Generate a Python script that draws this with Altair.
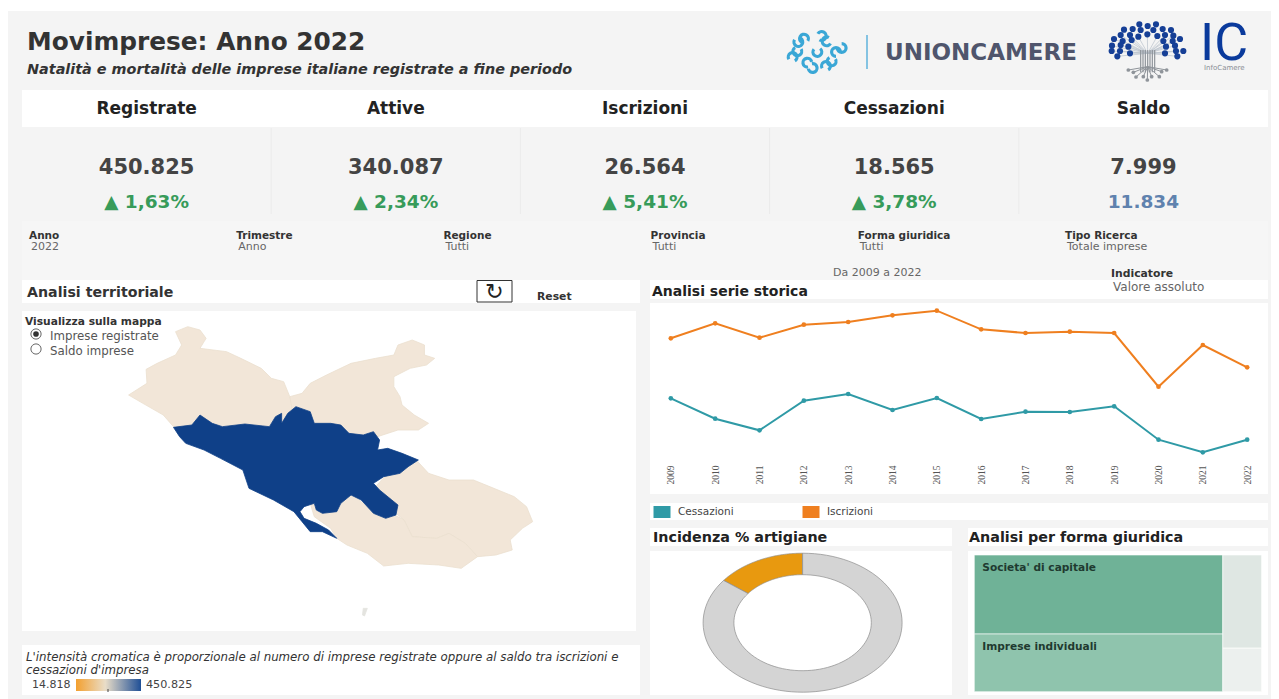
import altair as alt
import numpy as np
import pandas as pd

FONT = "DejaVu Sans"
BG = "#f4f4f4"

# ---------- text and values ----------
TITLE = "Movimprese: Anno 2022"
SUBTITLE = "Natalità e mortalità delle imprese italiane registrate a fine periodo"
kpi_names = ["Registrate", "Attive", "Iscrizioni", "Cessazioni", "Saldo"]
kpi_values = ["450.825", "340.087", "26.564", "18.565", "7.999"]
kpi_deltas = ["▲ 1,63%", "▲ 2,34%", "▲ 5,41%", "▲ 3,78%", "11.834"]
kpi_kinds = ["pct", "pct", "pct", "pct", "abs"]
filter_names = ["Anno", "Trimestre", "Regione", "Provincia", "Forma giuridica", "Tipo Ricerca"]
filter_values = ["2022", "Anno", "Tutti", "Tutti", "Tutti", "Totale imprese"]
NOTE_1 = "L'intensità cromatica è proporzionale al numero di imprese registrate oppure al saldo tra iscrizioni e"
NOTE_2 = "cessazioni d'impresa"
radio_options = ["Imprese registrate", "Saldo imprese"]

years = list(range(2009, 2023))
iscrizioni = [29769, 31426, 29835, 31271, 31570, 32310, 32818, 30763, 30354, 30498, 30354, 24420, 29028, 26564]
cessazioni = [23139, 20884, 19603, 22873, 23614, 21846, 23172, 20851, 21658, 21625, 22254, 18564, 17172, 18565]

artigiane_share = [14.6, 85.4]
forme = ["Societa' di capitale", "Imprese individuali", "Societa' di persone", "Altre forme"]
forme_values = [50.0, 36.5, 9.2, 4.3]

viterbo = [(425,440),(400,405),(350,370),(315,345),(360,310),(358,268),(385,250),(430,225),(445,195),(430,155),(460,140),(490,150),(505,175),(490,205),(555,215),(590,235),(640,265),(665,295),(695,305),(710,350),(725,395),(700,480),(500,470)]
rieti = [(710,350),(740,340),(760,310),(800,285),(860,250),(920,235),(965,225),(975,195),(1010,180),(1040,195),(1040,225),(1065,235),(1045,255),(1005,265),(965,290),(965,320),(980,350),(985,375),(1015,405),(1050,430),(1025,450),(975,450),(925,470),(900,500),(725,450)]
frosinone = [(1020,540),(1050,580),(1100,600),(1160,600),(1210,625),(1260,650),(1290,680),(1305,725),(1280,745),(1250,780),(1255,810),(1215,825),(1170,830),(1140,790),(1100,760),(1070,775),(1010,770),(990,720),(960,690),(920,620),(950,580)]
latina = [(1010,770),(1070,775),(1100,760),(1140,790),(1170,830),(1130,865),(1075,855),(1000,850),(940,858),(900,820),(850,795),(825,775),(810,745),(770,710),(760,670),(800,640),(860,640),(900,680),(960,700),(990,720)]
roma = [(425,442),(470,435),(490,405),(520,430),(545,440),(600,432),(660,440),(675,410),(690,400),(690,430),(705,400),(725,380),(760,395),(770,430),(810,430),(835,435),(855,460),(890,465),(915,455),(930,480),(925,510),(950,505),(985,520),(1025,540),(1000,560),(980,580),(940,590),(915,610),(930,630),(960,660),(975,675),(970,705),(945,715),(915,700),(885,660),(860,645),(835,670),(825,695),(790,700),(775,690),(770,670),(745,680),(735,695),(745,715),(775,730),(805,750),(825,775),(790,755),(760,755),(740,725),(720,695),(670,660),(610,625),(595,570),(540,535),(500,510),(455,490),(440,470)]
isola = [(890,985),(900,985),(893,1008),(888,1005)]

tree_dots = [(118,28),(143,33),(168,28),(188,42),(213,45),(98,42),(72,44),(122,45),(160,45),(62,60),(90,60),(115,65),(142,58),(172,63),(195,60),(220,62),(42,72),(68,78),(95,75),(190,78),(218,78),(240,72),(36,92),(62,90),(85,95),(198,95),(225,92),(250,108),(35,108),(60,108),(90,115),(195,115),(228,108),(52,124),(232,124)]
root_dots = [(85,165),(100,172),(108,186),(130,185),(142,195),(155,185),(178,185),(185,170),(200,165)]
trunk_x = [122,129,136,143,150,157,164]
swirl = [(55,60,30,300),(72,50,210,480),(125,42,300,570),(140,58,120,390),(185,78,0,270),(168,90,180,450),(155,118,60,330),(138,132,240,510),(82,122,170,440),(98,138,350,620),(52,88,60,330),(38,105,240,510),(112,90,40,310)]


def one():
    return alt.Data(values=[{"a": 1}])


def blank(w, h, fill=None):
    props = dict(width=w, height=h)
    if fill:
        props["view"] = alt.ViewBackground(fill=fill, stroke=None)
    return alt.Chart(one()).mark_rect(opacity=0).encode(
        x=alt.value(0), x2=alt.value(0), y=alt.value(0), y2=alt.value(0)).properties(**props)


def T(text, x, y, size, color="#333333", bold=False, italic=False, align="left", font=FONT, **kw):
    opts = dict(fontSize=size, color=color, align=align, baseline="middle", font=font)
    if bold:
        opts["fontWeight"] = "bold"
    if italic:
        opts["fontStyle"] = "italic"
    opts.update(kw)
    return alt.Chart(alt.Data(values=[{"t": text}])).mark_text(**opts).encode(
        x=alt.value(x), y=alt.value(y), text="t:N")


def card(layers, w, h, fill="white"):
    return alt.layer(*layers).properties(width=w, height=h, view=alt.ViewBackground(fill=fill, stroke=None))


def vc(*c):
    return alt.vconcat(*c, spacing=0).resolve_scale(color="independent", stroke="independent")


def hc(*c):
    return alt.hconcat(*c, spacing=0).resolve_scale(color="independent", stroke="independent")


# ---------- header ----------
X0, Y0 = 22, 11
W, H = 1246, 79
hx = alt.Scale(domain=[X0, X0 + W], nice=False, zero=False)
hy = alt.Scale(domain=[Y0 + H, Y0], nice=False, zero=False)

tree_df = pd.DataFrame([{"x": 1100 + a / 3, "y": 15 + b / 3} for a, b in tree_dots])
root_df = pd.DataFrame([{"x": 1100 + a / 3, "y": 15 + b / 3} for a, b in root_dots])
trunk_df = pd.DataFrame([{"x": 1100 + a / 3, "y": 15 + 105 / 3, "y2": 15 + 172 / 3} for a in trunk_x])
branch_df = pd.DataFrame([{"x": 1100 + 143 / 3, "y": 15 + 115 / 3, "x2": 1100 + a / 3, "y2": 15 + b / 3}
                          for a, b in tree_dots if b > 55])
rootline_df = pd.DataFrame([{"x": 1100 + 143 / 3, "y": 15 + 155 / 3, "x2": 1100 + a / 3, "y2": 15 + b / 3}
                            for a, b in root_dots])
swirl_df = pd.DataFrame([{"x": 780 + a / 3, "y": 22 + b / 3, "t1": s, "t2": e} for a, b, s, e in swirl])

logo_branch = alt.Chart(branch_df).mark_rule(color="#b9c2cc", strokeWidth=0.7).encode(
    x=alt.X("x:Q", scale=hx, axis=None), y=alt.Y("y:Q", scale=hy, axis=None), x2="x2:Q", y2="y2:Q")
logo_rootline = alt.Chart(rootline_df).mark_rule(color="#8f949a", strokeWidth=1).encode(
    x=alt.X("x:Q", scale=hx, axis=None), y=alt.Y("y:Q", scale=hy, axis=None), x2="x2:Q", y2="y2:Q")
logo_trunk = alt.Chart(trunk_df).mark_rule(color="#8f949a", strokeWidth=1.2).encode(
    x=alt.X("x:Q", scale=hx, axis=None), y=alt.Y("y:Q", scale=hy, axis=None), y2="y2:Q")
logo_tree = alt.Chart(tree_df).mark_point(filled=True, color="#163f96", opacity=1, size=38).encode(
    x=alt.X("x:Q", scale=hx, axis=None), y=alt.Y("y:Q", scale=hy, axis=None))
logo_root = alt.Chart(root_df).mark_point(filled=True, color="#8f949a", opacity=1, size=14).encode(
    x=alt.X("x:Q", scale=hx, axis=None), y=alt.Y("y:Q", scale=hy, axis=None))
logo_swirl = alt.Chart(swirl_df).mark_arc(radius=6, radius2=2.8, color="#3aa7d6").encode(
    x=alt.X("x:Q", scale=hx, axis=None), y=alt.Y("y:Q", scale=hy, axis=None),
    theta=alt.Theta("t1:Q", scale=alt.Scale(domain=[0, 360], range=[0, 6.2832])), theta2="t2:Q")
sep = alt.Chart(one()).mark_rule(color="#5fb3dc", strokeWidth=1.5).encode(
    x=alt.value(867 - X0), y=alt.value(35 - Y0), y2=alt.value(69 - Y0))

header = card([
    T(TITLE, 27 - X0, 43 - Y0, 24.8, "#333333", bold=True),
    T(SUBTITLE, 27 - X0, 70 - Y0, 14.4, "#333333", bold=True, italic=True),
    logo_swirl, sep,
    T("UNIONCAMERE", 885 - X0, 53 - Y0, 23, "#4f556c", bold=True),
    logo_branch, logo_rootline, logo_trunk, logo_tree, logo_root,
    T("IC", 1200 - X0, 44 - Y0, 52, "#0a3a9c", font="Roboto"),
    T("InfoCamere", 1204 - X0, 68 - Y0, 7, "#8a8f96"),
], W, H, BG)

# ---------- KPI rows ----------
kx = alt.X("kpi:N", sort=kpi_names, axis=None, scale=alt.Scale(domain=kpi_names, paddingInner=0, paddingOuter=0))
kpi_df = pd.DataFrame({"kpi": kpi_names, "val": kpi_values, "delta": kpi_deltas, "kind": kpi_kinds})

kpi_head = alt.Chart(kpi_df).mark_text(font=FONT, fontSize=17, fontWeight="bold", color="#222222").encode(
    x=kx, y=alt.value(19), text="kpi:N").properties(
    width=W, height=37, view=alt.ViewBackground(fill="white", stroke=None))

seps = alt.Chart(kpi_df[:-1]).mark_rule(color="#ebebeb").encode(
    x=alt.X("kpi:N", sort=kpi_names, axis=None, bandPosition=1,
            scale=alt.Scale(domain=kpi_names, paddingInner=0, paddingOuter=0)),
    y=alt.value(0), y2=alt.value(86))
kpi_val = alt.Chart(kpi_df).mark_text(font=FONT, fontSize=21, fontWeight="bold", color="#444444").encode(
    x=kx, y=alt.value(40), text="val:N")
kpi_delta = alt.Chart(kpi_df).mark_text(font=FONT, fontSize=18.5, fontWeight="bold").encode(
    x=kx, y=alt.value(74), text="delta:N",
    color=alt.Color("kind:N", legend=None, scale=alt.Scale(domain=["pct", "abs"], range=["#379b5a", "#5f82ae"])))
kpi_row = alt.layer(seps, kpi_val, kpi_delta).properties(width=W, height=87)

# ---------- filters ----------
fx = alt.X("name:N", axis=None, scale=alt.Scale(type="point", padding=0, domain=filter_names, range=[7, 1043]))
f_df = pd.DataFrame({"name": filter_names, "value": filter_values})
filters = alt.layer(
    alt.Chart(f_df).mark_text(font=FONT, fontSize=10.5, fontWeight="bold", color="#333333", align="left").encode(
        x=fx, y=alt.value(15), text="name:N"),
    alt.Chart(f_df).mark_text(font=FONT, fontSize=11, color="#666666", align="left", dx=2).encode(
        x=fx, y=alt.value(26), text="value:N"),
    T("Da 2009 a 2022", 833 - 22, 52, 11, "#666666"),
    T("Indicatore", 1111 - 22, 53, 10.8, "#333333", bold=True),
).properties(width=W, height=59, view=alt.ViewBackground(fill="#f6f6f6", stroke=None))

# ---------- left column ----------
LX = 22
reset_box = alt.Chart(one()).mark_rect(fill="white", stroke="#333333", strokeWidth=1).encode(
    x=alt.value(477 - LX), x2=alt.value(512 - LX), y=alt.value(0.5), y2=alt.value(22))
card_terr = card([
    T("Analisi territoriale", 27 - LX, 13, 14.2, "#333333", bold=True),
    reset_box,
    T("↻", 494.5 - LX, 11.5, 22, "#222222", align="center"),
    T("Reset", 537 - LX, 17, 10.8, "#333333", bold=True),
], 618, 23)


def feature(name, pts):
    ring_pts = [[x / 2.45, 280 + y / 3] for x, y in pts]
    ring_pts.append(ring_pts[0])
    return {"type": "Feature", "properties": {"prov": name},
            "geometry": {"type": "Polygon", "coordinates": [ring_pts]}}


geo_names = ["Viterbo", "Rieti", "Frosinone", "Latina", "Isola", "Roma"]
geo_colors = ["#f2e6d8", "#f2e6d8", "#f2e6d8", "#f2e6d8", "#e4e4e0", "#0f4088"]
features = [feature(n, p) for n, p in zip(geo_names, [viterbo, rieti, frosinone, latina, isola, roma])]
GEO_TRANSLATE = [-22, -311]
geo = alt.Chart(alt.InlineData(values={"type": "FeatureCollection", "features": features},
                               format=alt.DataFormat(property="features", type="json"))
                ).mark_geoshape(strokeWidth=0.8).encode(
    color=alt.Color("properties.prov:N", legend=None, scale=alt.Scale(domain=geo_names, range=geo_colors)),
    stroke=alt.Stroke("properties.prov:N", legend=None, scale=alt.Scale(domain=geo_names, range=["#ebdfcf"] * 4 + ["#e4e4e0", "#0f4088"])),
).project(type="identity", scale=1, translate=GEO_TRANSLATE)

opt_df = pd.DataFrame({"opt": radio_options})
oy = alt.Y("opt:N", axis=None, scale=alt.Scale(type="point", padding=0, domain=radio_options, range=[23, 38]))
rings = alt.Chart(opt_df).mark_point(shape="circle", filled=False, size=105, stroke="#666666", strokeWidth=1, opacity=1).encode(
    x=alt.value(36 - 22), y=oy)
dot = alt.Chart(opt_df[:1]).mark_point(shape="circle", filled=True, size=32, color="#333333", opacity=1).encode(
    x=alt.value(36 - 22), y=oy)
labels = alt.Chart(opt_df).mark_text(font=FONT, fontSize=11.8, color="#555555", align="left", dy=2).encode(
    x=alt.value(50 - 22), y=oy, text="opt:N")
map_card = alt.layer(
    geo, rings, dot, labels,
    T("Visualizza sulla mappa", 25 - 22, 11, 10.7, "#333333", bold=True),
).properties(width=614, height=320, view=alt.ViewBackground(fill="white", stroke=None))

grad = alt.Gradient(gradient="linear", x1=0, x2=1, y1=0, y2=0, stops=[
    alt.GradientStop(color="#f3a02f", offset=0),
    alt.GradientStop(color="#e9ddc8", offset=0.45),
    alt.GradientStop(color="#1f4f96", offset=1)])
gbar = alt.Chart(one()).mark_rect(color=grad).encode(
    x=alt.value(76 - 22), x2=alt.value(141 - 22), y=alt.value(34), y2=alt.value(46))
gtick = alt.Chart(one()).mark_rule(color="#444444", strokeWidth=1).encode(
    x=alt.value(108 - 22), y=alt.value(44), y2=alt.value(47))
note_card = card([
    T(NOTE_1, 26 - 22, 12, 11.8, "#333333", italic=True),
    T(NOTE_2, 26 - 22, 25, 11.8, "#333333", italic=True),
    T("14.818", 32 - 22, 40, 11, "#444444"),
    gbar, gtick,
    T("450.825", 146 - 22, 40, 11.2, "#444444"),
], 618, 50)

left = vc(card_terr, blank(618, 8), map_card, blank(618, 14), note_card)

# ---------- right column ----------
RX = 650
card_serie = card([
    T("Analisi serie storica", 652 - RX, 11.5, 14, "#222222", bold=True),
    T("Valore assoluto", 1113 - RX, 7, 12, "#666666"),
], 618, 19)

serie_names = ["Cessazioni", "Iscrizioni"]
serie_colors = ["#2f9aa6", "#ef7f1f"]
serie_df = pd.concat([
    pd.DataFrame({"anno": years, "serie": "Iscrizioni", "v": iscrizioni}),
    pd.DataFrame({"anno": years, "serie": "Cessazioni", "v": cessazioni}),
])
sx = alt.X("anno:O", title=None, scale=alt.Scale(type="point", padding=0.47),
           axis=alt.Axis(labelAngle=270, domain=False, ticks=False, grid=False, labelPadding=0, offset=-29,
                         labelFont="Liberation Serif", labelFontSize=9.5, labelColor="#555555"))
sy = alt.Y("v:Q", axis=None, scale=alt.Scale(domain=[12564, 33669], nice=False, zero=False))
sc = alt.Color("serie:N", legend=None, scale=alt.Scale(domain=serie_names, range=serie_colors))
line_card = alt.layer(
    alt.Chart(serie_df).mark_line(strokeWidth=2).encode(x=sx, y=sy, color=sc),
    alt.Chart(serie_df).mark_point(filled=True, opacity=1, size=22).encode(x=sx, y=sy, color=sc),
).properties(width=618, height=191, view=alt.ViewBackground(fill="white", stroke=None))

leg_df = pd.DataFrame({"serie": serie_names})
lx = alt.X("serie:N", axis=None, scale=alt.Scale(type="point", padding=0, domain=serie_names, range=[12, 161]))
legend_card = alt.layer(
    alt.Chart(leg_df).mark_rect(width=17, height=12).encode(x=lx, y=alt.value(9), color=sc),
    alt.Chart(leg_df).mark_text(font=FONT, fontSize=10.5, color="#444444", align="left", dx=16).encode(
        x=lx, y=alt.value(9), text="serie:N"),
).properties(width=618, height=17, view=alt.ViewBackground(fill="white", stroke=None))

# donut: the picture squeezes it into an ellipse, so its rings are built from the shares
# coordinates are offset so it can share the map's projection
CX, CY = 152.6 + 22, 71.7 + 311
RO, RI = (99.5, 69.5), (68.7, 48)
part_names = ["Artigiane", "Altre"]


def ring(a0, a1):
    t = np.radians(np.linspace(a0, a1, 90))
    outer = np.c_[CX + RO[0] * np.sin(t), CY - RO[1] * np.cos(t)]
    inner = np.c_[CX + RI[0] * np.sin(t), CY - RI[1] * np.cos(t)][::-1]
    pts = np.vstack([outer, inner, outer[:1]]).round(2).tolist()
    return {"type": "Polygon", "coordinates": [pts]}


a_art = artigiane_share[0] / sum(artigiane_share) * 360
donut_features = [
    {"type": "Feature", "properties": {"part": part_names[0]}, "geometry": ring(-a_art, 0)},
    {"type": "Feature", "properties": {"part": part_names[1]}, "geometry": ring(0, 360 - a_art)},
]
donut = alt.Chart(alt.InlineData(values={"type": "FeatureCollection", "features": donut_features},
                                 format=alt.DataFormat(property="features", type="json"))
                  ).mark_geoshape(stroke="#8c8c8c", strokeWidth=0.7).encode(
    color=alt.Color("properties.part:N", legend=None,
                    scale=alt.Scale(domain=part_names, range=["#e8990f", "#d4d4d4"]))
).project(type="identity", scale=1, translate=GEO_TRANSLATE)
donut_card = alt.layer(donut).properties(width=302, height=144, view=alt.ViewBackground(fill="white", stroke=None))

# treemap, two columns of slices
left_total = forme_values[0] + forme_values[1]
right_total = forme_values[2] + forme_values[3]
total = left_total + right_total
split = left_total / total
tm_df = pd.DataFrame({
    "forma": forme,
    "x0": [0, 0, split, split],
    "x1": [split, split, 1, 1],
    "y0": [0, forme_values[0] / left_total, 0, forme_values[2] / right_total],
    "y1": [forme_values[0] / left_total, 1, forme_values[2] / right_total, 1],
})
tx = alt.X("x0:Q", axis=None, scale=alt.Scale(domain=[-6.3 / 287.3, 293.7 / 287.3], nice=False, zero=False))
ty = alt.Y("y0:Q", axis=None, scale=alt.Scale(domain=[-4 / 136.7, 140 / 136.7], nice=False, zero=False, reverse=True))
tree_cells = alt.Chart(tm_df).mark_rect(stroke="white", strokeWidth=0.6).encode(
    x=tx, x2="x1:Q", y=ty, y2="y1:Q",
    color=alt.Color("forma:N", legend=None, scale=alt.Scale(domain=forme, range=["#6fb297", "#8fc4ad", "#dfe7e3", "#ecf0ee"])))
tree_text = alt.Chart(tm_df[:2]).mark_text(font=FONT, fontSize=10.6, fontWeight="bold", color="#1f3a30",
                                           align="left", dx=8, dy=13).encode(x=tx, y=ty, text="forma:N")
tree_card = alt.layer(tree_cells, tree_text).properties(width=300, height=144, view=alt.ViewBackground(fill="white", stroke=None))

bottom_titles = hc(
    card([T("Incidenza % artigiane", 3, 9.5, 14.3, "#222222", bold=True)], 302, 18),
    blank(16, 18),
    card([T("Analisi per forma giuridica", 1, 9.5, 14.3, "#222222", bold=True)], 300, 18),
)
bottom_panels = hc(donut_card, blank(16, 144), tree_card)

right = vc(card_serie, blank(618, 4), line_card, blank(618, 9), legend_card, blank(618, 8),
           bottom_titles, blank(618, 5), bottom_panels)

lower = hc(left, blank(10, 415), right)
main = vc(header, kpi_head, kpi_row, blank(W, 6), filters, lower, blank(W, 5))
page = hc(blank(14, 688), main, blank(3, 688))
chart = vc(blank(1263, 3, fill="white"), page)

chart = chart.properties(padding=0, background=BG).configure_view(stroke=None)
chart.save("out.html", embed_options={"renderer": "svg", "actions": False})
